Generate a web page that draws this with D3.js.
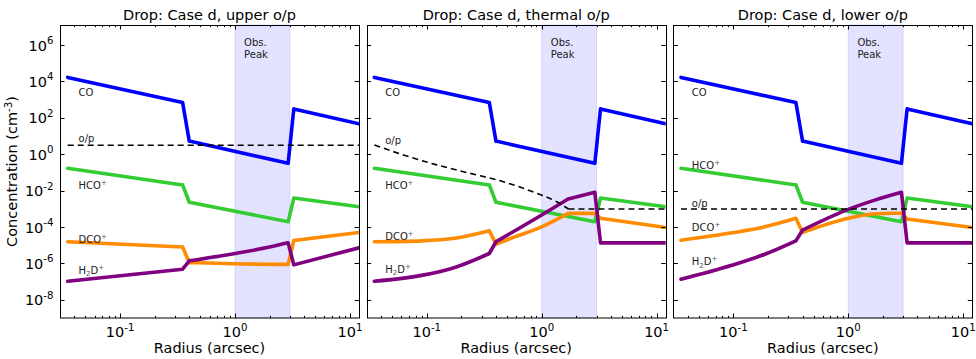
<!DOCTYPE html>
<html><head><meta charset="utf-8">
<script src="https://cdn.jsdelivr.net/npm/d3@7"></script>
<style>
body{margin:0;background:#fff}
svg{display:block}
text{font-family:"DejaVu Sans","Liberation Sans",sans-serif}
</style>
</head><body>
<svg id="c" width="976" height="359"></svg>
<script>
// ---------------- DATA ----------------
const titles = ["Drop: Case d, upper o/p", "Drop: Case d, thermal o/p", "Drop: Case d, lower o/p"];
const xTickValues = [0.1, 1, 10];
const xTickExps = ["-1", "0", "1"];
const yTickValues = [1e-8, 1e-6, 1e-4, 1e-2, 1e0, 1e2, 1e4, 1e6];
const yTickExps = ["-8", "-6", "-4", "-2", "0", "2", "4", "6"];
const obsPeak = [1.0, 3.0];

// CO and HCO+ (same in all panels)
const coR = [0.035, 0.35, 0.40, 2.9, 3.25, 12];
const coN = [1.66e4, 692, 5.25, 0.316, 309, 46.8];
const hcoR = [0.035, 0.35, 0.40, 2.9, 3.25, 12];
const hcoN = [0.17, 0.0204, 2.29e-3, 1.95e-4, 3.89e-3, 1.29e-3];

// upper o/p
const dcoUpperR = [0.035, 0.35, 0.40, 1.0, 2.9, 3.25, 12];
const dcoUpperN = [1.55e-5, 7.9e-6, 1.12e-6, 9.5e-7, 8.9e-7, 1.8e-5, 5.0e-5];
const h2dUpperR = [0.035, 0.35, 0.40, 1.0, 2.0, 2.9, 3.25, 12];
const h2dUpperN = [1.05e-7, 4.8e-7, 1.38e-6, 3.5e-6, 7.9e-6, 1.35e-5, 8.3e-7, 7.2e-6];
const opUpperR = [0.035, 12];
const opUpperN = [3.1, 3.1];

// thermal o/p
const dcoThermalR = [0.035, 0.09, 0.175, 0.35, 0.40, 0.59, 1.0, 1.7, 2.9, 3.25, 12];
const dcoThermalN = [1.55e-5, 1.74e-5, 2.4e-5, 6.2e-5, 1.15e-5, 2.95e-5, 1.02e-4, 5.6e-4, 5.6e-4, 3.0e-4, 9.5e-5];
const h2dThermalR = [0.035, 0.09, 0.175, 0.35, 0.40, 1.0, 1.7, 2.9, 3.25, 12];
const h2dThermalN = [1.05e-7, 2.2e-7, 6.0e-7, 3.5e-6, 1.55e-5, 4.6e-4, 3.5e-3, 8.1e-3, 1.35e-5, 1.35e-5];
const opThermalR = [0.035, 0.0625, 0.122, 0.238, 0.463, 0.906, 1.35, 1.71, 12];
const opThermalN = [3.2, 0.91, 0.26, 0.089, 0.031, 7.1e-3, 2.45e-3, 9.8e-4, 9.8e-4];

// lower o/p
const dcoLowerR = [0.035, 0.097, 0.188, 0.35, 0.40, 1.0, 1.6, 2.9, 3.25, 12];
const dcoLowerN = [1.86e-5, 4.8e-5, 1.02e-4, 3.0e-4, 5.0e-5, 3.0e-4, 5.2e-4, 5.9e-4, 2.75e-4, 9.5e-5];
const h2dLowerR = [0.035, 0.097, 0.188, 0.35, 0.40, 1.0, 1.7, 2.9, 3.25, 12];
const h2dLowerN = [1.35e-7, 7.9e-7, 3.2e-6, 1.74e-5, 6.8e-5, 9.3e-4, 3.0e-3, 8.1e-3, 1.35e-5, 1.35e-5];
const opLowerR = [0.035, 12];
const opLowerN = [9.8e-4, 9.8e-4];

// ---------------- LAYOUT ----------------
const lefts = [60, 366.7, 673.3];
const pw = 299, plotTop = 25, plotBottom = 318;
const colors = {co: "#0000ff", hco: "#33cc33", dco: "#ff8c00", h2d: "#800080", op: "#000"};
const labelX = 0.0435;
const labelY = [
  {co: 2450, op: 7.6, hco: 0.0186, dco: 2.2e-5, h2d: 4.3e-7},
  {co: 2450, op: 5.4, hco: 0.0186, dco: 2.9e-5, h2d: 4.8e-7},
  {co: 2450, op: 2.1e-3, hco: 0.234, dco: 9.5e-5, h2d: 1.23e-6}
];
// radii where a curve has a sharp corner (drawn smooth elsewhere)
const baseKinks = [0.35, 0.40, 2.9, 3.25];
const panelData = [
  {dco: [dcoUpperR, dcoUpperN, []], h2d: [h2dUpperR, h2dUpperN, []], op: [opUpperR, opUpperN, []]},
  {dco: [dcoThermalR, dcoThermalN, [1.7]], h2d: [h2dThermalR, h2dThermalN, [1.7]], op: [opThermalR, opThermalN, [1.71]]},
  {dco: [dcoLowerR, dcoLowerN, []], h2d: [h2dLowerR, h2dLowerN, []], op: [opLowerR, opLowerN, []]}
];

const svg = d3.select("#c");
const y = d3.scaleLog().domain([1e-9, Math.pow(10, 7.1)]).range([plotBottom, plotTop]);

const minorX = [];
[0.01, 0.1, 1, 10].forEach(d => { for (let k = 2; k <= 9; k++) { const v = k * d; if (v > 0.03 && v < 12) minorX.push(v); } });

function zip(a, b) { return a.map((v, i) => [v, b[i]]); }

// parts: [text, kind]; kinds n / sup / sub
function addLabel(g, xpx, ypx, parts) {
  const t = g.append("text").attr("x", xpx).attr("y", ypx + 3.6).attr("font-size", 10).attr("fill", "#222");
  let cur = 0;
  parts.forEach(p => {
    const target = p[1] === "sup" ? -4 : (p[1] === "sub" ? 2.5 : 0);
    const ts = t.append("tspan").attr("dy", target - cur).text(p[0]);
    if (p[1] !== "n") ts.attr("font-size", 7).attr("fill", "#555");
    cur = target;
  });
}

lefts.forEach((left, pi) => {
  const x = d3.scaleLog().domain([0.03, 12]).range([left, left + pw]);
  const g = svg.append("g");
  const clipId = "clip" + pi;
  svg.append("clipPath").attr("id", clipId).append("rect")
    .attr("x", left).attr("y", plotTop).attr("width", pw).attr("height", plotBottom - plotTop);

  // shaded obs peak
  g.append("rect")
    .attr("x", x(obsPeak[0])).attr("width", x(obsPeak[1]) - x(obsPeak[0]))
    .attr("y", plotTop).attr("height", plotBottom - plotTop)
    .attr("fill", "#0000ff").attr("fill-opacity", 0.11)
    .attr("stroke", "#0000ff").attr("stroke-opacity", 0.12).attr("stroke-width", 1);
  g.append("text").attr("x", x(1.2)).attr("y", 45.8).attr("font-size", 10).attr("fill", "#222").text("Obs.");
  g.append("text").attr("x", x(1.2)).attr("y", 57.8).attr("font-size", 10).attr("fill", "#222").text("Peak");

  const smooth = d3.line().x(d => x(d[0])).y(d => y(d[1])).curve(d3.curveMonotoneX);
  // split series at corner radii so corners stay sharp
  function pathFor(pts, kinks) {
    const ks = baseKinks.concat(kinks);
    let pieces = [], cur = [];
    pts.forEach((p, i) => {
      cur.push(p);
      if (i > 0 && i < pts.length - 1 && ks.some(k => Math.abs(k - p[0]) < 1e-9)) { pieces.push(cur); cur = [p]; }
    });
    pieces.push(cur);
    return pieces.map(pc => smooth(pc)).join("");
  }
  const lg = g.append("g").attr("clip-path", "url(#" + clipId + ")");
  const pd = panelData[pi];
  const series = [
    {k: "co", d: zip(coR, coN), kinks: []},
    {k: "hco", d: zip(hcoR, hcoN), kinks: []},
    {k: "dco", d: zip(pd.dco[0], pd.dco[1]), kinks: pd.dco[2]},
    {k: "h2d", d: zip(pd.h2d[0], pd.h2d[1]), kinks: pd.h2d[2]},
    {k: "op", d: zip(pd.op[0], pd.op[1]), kinks: pd.op[2]}
  ];
  series.forEach(s => {
    const p = lg.append("path").attr("fill", "none")
      .attr("stroke", colors[s.k]).attr("stroke-linejoin", "round");
    if (s.k === "op") p.attr("d", pathFor(s.d, s.kinks.concat([0.35, 0.40]).filter(k => s.d.some(q => q[0] === k)))).attr("stroke-width", 1.6).attr("stroke-dasharray", "6,4");
    else p.attr("d", pathFor(s.d, s.kinks)).attr("stroke-width", 3.6).attr("stroke-linecap", "round");
  });

  // labels
  const lx = x(labelX), ly = labelY[pi];
  addLabel(g, lx, y(ly.co), [["CO", "n"]]);
  addLabel(g, lx, y(ly.op), [["o/p", "n"]]);
  addLabel(g, lx, y(ly.hco), [["HCO", "n"], ["+", "sup"]]);
  addLabel(g, lx, y(ly.dco), [["DCO", "n"], ["+", "sup"]]);
  addLabel(g, lx, y(ly.h2d), [["H", "n"], ["2", "sub"], ["D", "n"], ["+", "sup"]]);

  // ticks
  const tg = g.append("g").attr("stroke", "#000").attr("stroke-width", 1);
  xTickValues.forEach(v => {
    const xp = Math.round(x(v)) + 0.5;
    tg.append("line").attr("x1", xp).attr("x2", xp).attr("y1", plotBottom).attr("y2", plotBottom - 4.5);
    tg.append("line").attr("x1", xp).attr("x2", xp).attr("y1", plotTop).attr("y2", plotTop + 4.5);
  });
  minorX.forEach(v => {
    const xp = Math.round(x(v)) + 0.5;
    tg.append("line").attr("x1", xp).attr("x2", xp).attr("y1", plotBottom).attr("y2", plotBottom - 2.2);
    tg.append("line").attr("x1", xp).attr("x2", xp).attr("y1", plotTop).attr("y2", plotTop + 2.2);
  });
  yTickValues.forEach(v => {
    const yp = Math.round(y(v)) + 0.5;
    tg.append("line").attr("x1", left).attr("x2", left + 4.5).attr("y1", yp).attr("y2", yp);
    tg.append("line").attr("x1", left + pw).attr("x2", left + pw - 4.5).attr("y1", yp).attr("y2", yp);
  });

  // frame
  g.append("rect").attr("x", Math.round(left) + 0.5).attr("y", plotTop + 0.5)
    .attr("width", pw).attr("height", plotBottom - plotTop - 0.5)
    .attr("fill", "none").attr("stroke", "#000").attr("stroke-width", 1);

  // x tick labels
  xTickValues.forEach((v, i) => {
    const t = g.append("text").attr("x", x(v)).attr("y", 337).attr("text-anchor", "middle")
      .attr("font-size", 14.5).attr("fill", "#000");
    t.append("tspan").text("10");
    t.append("tspan").attr("font-size", 10.2).attr("dy", -6.5).text(xTickExps[i]);
  });
  // y tick labels on first panel
  if (pi === 0) {
    yTickValues.forEach((v, i) => {
      const t = g.append("text").attr("x", left - 6.5).attr("y", y(v) + 5.5).attr("text-anchor", "end")
        .attr("font-size", 14.5).attr("fill", "#000");
      t.append("tspan").text("10");
      t.append("tspan").attr("font-size", 10.2).attr("dy", -6.5).text(yTickExps[i]);
    });
  }
  // title
  g.append("text").attr("x", left + pw / 2).attr("y", 19.5).attr("text-anchor", "middle")
    .attr("font-size", 14.5).attr("fill", "#000").text(titles[pi]);
  // x label
  g.append("text").attr("x", left + pw / 2).attr("y", 353).attr("text-anchor", "middle")
    .attr("font-size", 14.5).attr("fill", "#000").text("Radius (arcsec)");
});

// y label
const yl = svg.append("text").attr("transform", "translate(17," + ((plotTop + plotBottom) / 2) + ") rotate(-90)")
  .attr("text-anchor", "middle").attr("font-size", 14.5).attr("fill", "#000");
yl.append("tspan").text("Concentration (cm");
yl.append("tspan").attr("font-size", 10.2).attr("dy", -5.5).text("-3");
yl.append("tspan").attr("dy", 5.5).text(")");
</script>
</body></html>
